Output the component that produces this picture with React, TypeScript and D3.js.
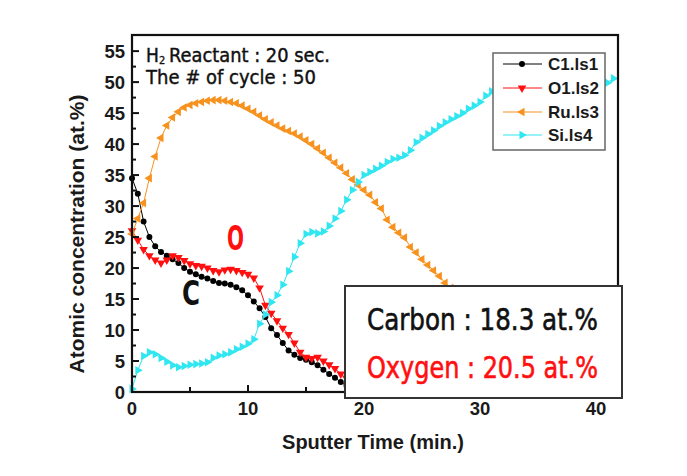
import React from "react";
import * as d3 from "d3";

// ---- data (Sputter time step 0.5 min) ----
const STEP = 0.5;
const carbon = [34.5, 32, 27.5, 25, 23.5, 22.6, 22.0, 21.4, 20.8, 20.0, 19.4, 19.0, 18.6, 18.3, 17.9, 17.6, 17.5, 17.3, 16.9, 16.4, 15.6, 14.6, 13.5, 12.1, 10.3, 9.2, 7.9, 6.7, 6.0, 5.5, 5.2, 4.8, 4.3, 3.6, 2.9, 2.3, 1.6, 1.0];
const oxygen = [26.0, 24.5, 23.0, 22.0, 21.3, 20.8, 21.3, 22.0, 21.7, 21.2, 20.7, 20.4, 20.3, 20.0, 19.6, 19.4, 19.7, 19.8, 19.6, 19.3, 19.0, 18.4, 16.8, 14.0, 12.7, 11.5, 10.3, 9.3, 7.9, 6.4, 5.6, 5.4, 5.6, 5.0, 4.4, 3.8, 2.9, 2.2];
const ruthenium = [25.5, 28, 30.5, 34.5, 38, 41, 43, 44.3, 45.2, 45.9, 46.3, 46.6, 46.8, 47.0, 47.1, 47.1, 47.0, 46.8, 46.6, 46.2, 45.7, 45.2, 44.6, 44.0, 43.5, 43.0, 42.5, 42.1, 41.7, 41.2, 40.6, 40.0, 39.3, 38.6, 37.8, 37.0, 36.2, 35.3, 34.3, 33.4, 32.6, 31.8, 30.6, 29.6, 27.8, 26.6, 25.7, 24.9, 23.4, 22.5, 21.4, 20.5, 19.6, 18.7, 17.6, 16.8, 15.8, 14.8, 13.8, 12.8, 11.8];
const silicon = [0.5, 3.5, 5.8, 6.4, 6.1, 5.5, 4.9, 4.3, 4.0, 4.2, 4.4, 4.5, 4.6, 4.8, 5.5, 5.9, 6.1, 6.4, 6.9, 7.3, 7.8, 8.5, 11.0, 12.5, 14.5, 15.6, 17.3, 19.5, 21.8, 24.0, 25.5, 25.8, 25.6, 25.9, 26.8, 28.0, 29.2, 31.0, 32.6, 33.9, 35.0, 35.5, 36.0, 36.5, 37.1, 37.6, 37.8, 38.2, 39.0, 40.3, 41.0, 41.6, 42.2, 42.9, 43.5, 44.0, 44.5, 45.0, 45.7, 46.2, 46.8, 47.8, 48.5, 48.6, 48.7, 48.8, 48.9, 49.0, 49.1, 49.1, 49.2, 49.2, 49.3, 49.3, 49.4, 49.4, 49.5, 49.5, 49.5, 49.6, 49.6, 49.6, 49.9, 50.6];

const seriesNames = ["C1.ls1", "O1.ls2", "Ru.ls3", "Si.ls4"];
const yTicks = [0, 5, 10, 15, 20, 25, 30, 35, 40, 45, 50, 55];
const yMinor = [2.5, 7.5, 12.5, 17.5, 22.5, 27.5, 32.5, 37.5, 42.5, 47.5, 52.5];
const xTicks = [0, 10, 20, 30, 40];
const xMinor = [5, 15, 25, 35];

const W = 687, H = 476;
const L = 132, R = 618, T = 35, B = 392;

const x = d3.scaleLinear().domain([0, 41.9]).range([L, R]);
const y = d3.scaleLinear().domain([0, 57.6]).range([B, T]);

const ORANGE = "#F7921E";
const CYAN = "#30E6F0";
const RED = "#FF1010";
const NARROW = "Liberation Sans Narrow, DejaVu Sans Condensed, sans-serif";
const SANS = "Liberation Sans, Arial, sans-serif";

type Spec = { name: string; values: number[]; color: string; kind: "circle" | "down" | "left" | "right" };
const specs: Spec[] = [
  { name: seriesNames[0], values: carbon, color: "#000000", kind: "circle" },
  { name: seriesNames[1], values: oxygen, color: RED, kind: "down" },
  { name: seriesNames[2], values: ruthenium, color: ORANGE, kind: "left" },
  { name: seriesNames[3], values: silicon, color: CYAN, kind: "right" },
];

const triPath = d3.symbol().type(d3.symbolTriangle).size(32)() as string;
const circPath = d3.symbol().type(d3.symbolCircle).size(28)() as string;
const rot = { down: 180, left: -90, right: 90, circle: 0 } as const;

function Marker({ cx, cy, kind, color }: { cx: number; cy: number; kind: Spec["kind"]; color: string }) {
  const d = kind === "circle" ? circPath : triPath;
  return <path d={d} transform={`translate(${cx},${cy}) rotate(${rot[kind]})`} fill={color} />;
}

export default function App() {
  const line = d3.line<number>().x((_, i) => x(i * STEP)).y((v) => y(v));
  const legendY = [64, 88, 112, 135];
  return (
    <svg width={W} height={H} style={{ position: "absolute", left: 0, top: 0, background: "#fff" }}>
      <rect x={0} y={0} width={W} height={H} fill="#fff" />
      {/* series */}
      {specs.map((s) => (
        <g key={s.name}>
          <path d={line(s.values) || ""} fill="none" stroke={s.color} strokeWidth={1} />
          {s.values.map((v, i) => (
            <Marker key={i} cx={x(i * STEP)} cy={y(v)} kind={s.kind} color={s.color} />
          ))}
        </g>
      ))}
      {/* frame */}
      <rect x={L} y={T} width={R - L} height={B - T} fill="none" stroke="#111" strokeWidth={2.2} />
      {/* y ticks */}
      {yTicks.map((t) => (
        <g key={"y" + t}>
          <line x1={L} x2={L + 7} y1={y(t)} y2={y(t)} stroke="#111" strokeWidth={2} />
          <text x={L - 7} y={y(t) + 6.5} textAnchor="end" fontFamily={SANS} fontWeight="bold" fontSize={18.5} fill="#1a1a1a">{t}</text>
        </g>
      ))}
      {yMinor.map((t) => (
        <line key={"ym" + t} x1={L} x2={L + 4} y1={y(t)} y2={y(t)} stroke="#111" strokeWidth={2} />
      ))}
      {xTicks.map((t) => (
        <g key={"x" + t}>
          <line x1={x(t)} x2={x(t)} y1={B} y2={B - 7} stroke="#111" strokeWidth={2} />
          <text x={x(t)} y={B + 23} textAnchor="middle" fontFamily={SANS} fontWeight="bold" fontSize={18.5} fill="#1a1a1a">{t}</text>
        </g>
      ))}
      {xMinor.map((t) => (
        <line key={"xm" + t} x1={x(t)} x2={x(t)} y1={B} y2={B - 5} stroke="#111" strokeWidth={2} />
      ))}
      {/* axis titles */}
      <text x={373} y={449} textAnchor="middle" fontFamily={SANS} fontWeight="bold" fontSize={20} fill="#1a1a1a">Sputter Time (min.)</text>
      <text transform="translate(84,234) rotate(-90)" textAnchor="middle" fontFamily={SANS} fontWeight="bold" fontSize={21} fill="#1a1a1a">Atomic concentration (at.%)</text>
      {/* annotation */}
      <text x={146} y={62} fontFamily={NARROW} fontSize={19} fill="#111" stroke="#111" strokeWidth={0.4}>H</text>
      <text x={159} y={63.5} fontFamily={NARROW} fontSize={11} fill="#111" stroke="#111" strokeWidth={0.3}>2</text>
      <text x={169} y={62} fontFamily={NARROW} fontSize={19} fill="#111" stroke="#111" strokeWidth={0.4} textLength={161} lengthAdjust="spacingAndGlyphs">Reactant : 20 sec.</text>
      <text x={146} y={84} fontFamily={NARROW} fontSize={19} fill="#111" stroke="#111" strokeWidth={0.4} textLength={170} lengthAdjust="spacingAndGlyphs">The # of cycle : 50</text>
      {/* curve labels */}
      <text x={227} y={250} fontFamily={NARROW} fontWeight="bold" fontSize={34} fill={RED} textLength={17} lengthAdjust="spacingAndGlyphs">O</text>
      <text x={182} y={305} fontFamily={NARROW} fontWeight="bold" fontSize={34} fill="#111" textLength={18} lengthAdjust="spacingAndGlyphs">C</text>
      {/* legend */}
      <rect x={493} y={53} width={112} height={97} fill="#fff" stroke="#666" strokeWidth={1.5} />
      {specs.map((s, i) => (
        <g key={"lg" + s.name}>
          <line x1={503} x2={542} y1={legendY[i]} y2={legendY[i]} stroke={s.color} strokeWidth={1} />
          <Marker cx={522} cy={legendY[i]} kind={s.kind} color={s.color} />
          <text x={548} y={legendY[i] + 6} fontFamily={SANS} fontWeight="bold" fontSize={17} fill="#1a1a1a">{s.name}</text>
        </g>
      ))}
      {/* result box */}
      <rect x={345} y={286} width={277} height={112} fill="#fff" stroke="#333" strokeWidth={2} />
      <text x={367} y={330} fontFamily={NARROW} fontSize={31} fill="#111" stroke="#111" strokeWidth={0.6} textLength={231} lengthAdjust="spacingAndGlyphs">Carbon : 18.3 at.%</text>
      <text x={367} y={378} fontFamily={NARROW} fontSize={31} fill={RED} stroke={RED} strokeWidth={0.6} textLength={231} lengthAdjust="spacingAndGlyphs">Oxygen : 20.5 at.%</text>
    </svg>
  );
}
